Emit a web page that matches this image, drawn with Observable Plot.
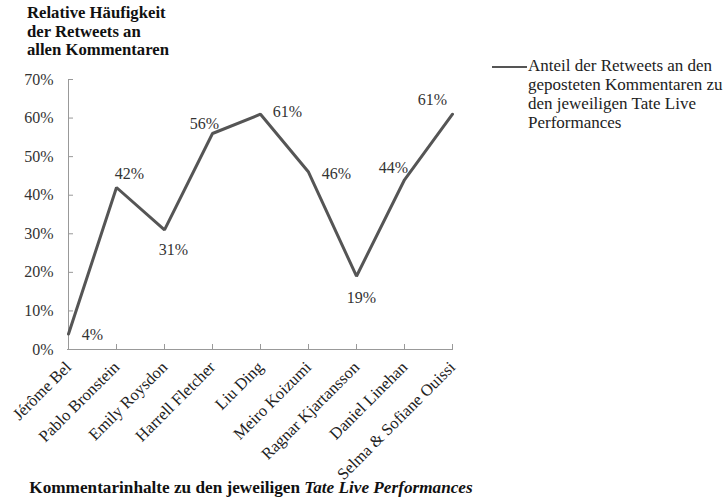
<!DOCTYPE html>
<html>
<head>
<meta charset="utf-8">
<script src="https://cdn.jsdelivr.net/npm/d3@7"></script>
<script src="https://cdn.jsdelivr.net/npm/@observablehq/plot@0.6"></script>
<style>
  html, body { margin: 0; padding: 0; background: #fff; }
  #wrap { position: relative; width: 728px; height: 504px; font-family: "Liberation Serif", "Times New Roman", serif; color: #333; }
  #wrap svg { position: absolute; left: 0; top: 0; }
  #wrap svg text { font-family: "Liberation Serif", "Times New Roman", serif !important; }
  .title { position: absolute; left: 27px; top: 4px; font-weight: bold; font-size: 16.7px; line-height: 18.5px; color: #111; }
  .legend { position: absolute; left: 492px; top: 56px; display: flex; align-items: flex-start; }
  .legend .swatch { width: 35px; height: 2.5px; background: #555; margin-top: 9.5px; flex: none; }
  .legend .label { margin-left: 1px; font-size: 17px; line-height: 19px; color: #222; width: 205px; }
  .xtitle { position: absolute; left: 0; width: 502px; top: 478px; text-align: center; font-weight: bold; font-size: 17.2px; line-height: 19px; color: #111; white-space: nowrap; }
</style>
</head>
<body>
<div id="wrap">
  <div class="title">Relative Häufigkeit<br>der Retweets an<br>allen Kommentaren</div>
  <div class="legend"><div class="swatch"></div><div class="label">Anteil der Retweets an den geposteten Kommentaren zu den jeweiligen Tate Live Performances</div></div>
  <div class="xtitle">Kommentarinhalte zu den jeweiligen <i>Tate Live Performances</i></div>
</div>
<script>
const categories = ["Jérôme Bel", "Pablo Bronstein", "Emily Roysdon", "Harrell Fletcher", "Liu Ding", "Meiro Koizumi", "Ragnar Kjartansson", "Daniel Linehan", "Selma & Sofiane Ouissi"];
const values = [4, 42, 31, 56, 61, 46, 19, 44, 61];
const yTicks = [0, 10, 20, 30, 40, 50, 60, 70];

// label offsets (dx, dy) for each value label
const labelOffsets = [[24, 1], [13, -14], [9, 20], [-8, -10], [27, -2], [28, 2], [5, 22], [-11, -12], [-20, -14]];

const data = categories.map((c, i) => ({ name: c, value: values[i] }));

const font = "'Liberation Serif', 'Times New Roman', serif";

const labelMarks = labelOffsets.map((o, i) =>
  Plot.text([data[i]], {
    x: "name", y: "value", text: d => d.value + "%",
    dx: o[0], dy: o[1], fontSize: 16, fill: "#333", fontFamily: font
  })
);

const chart = Plot.plot({
  width: 728,
  height: 504,
  marginLeft: 67,
  marginRight: 275,
  marginTop: 79,
  marginBottom: 155,
  style: `font-family: ${font}; font-size: 16px; color: #333; background: transparent;`,
  x: { type: "point", domain: categories, padding: 0 },
  y: { domain: [0, 70] },
  marks: [
    Plot.axisY({ ticks: yTicks, tickFormat: d => d + "%", tickSize: 0, tickPadding: 14, label: null, fontSize: 16, fill: "#333" }),
    Plot.axisX({ tickRotate: -45, tickSize: 0, tickPadding: 15, label: null, fontSize: 16.5, fill: "#222" }),
    Plot.ruleX([categories[0]], { x: d => d, stroke: "#999", strokeWidth: 1 }),
    Plot.ruleY([0], { y: d => d, stroke: "#999", strokeWidth: 1 }),
    Plot.ruleY(yTicks, { y: d => d, x1: () => categories[0], x2: () => categories[0], insetRight: -5, stroke: "#999", strokeWidth: 1 }),
    Plot.ruleX(categories, { x: d => d, y1: () => 0, y2: () => 0, insetTop: -5, stroke: "#999", strokeWidth: 1 }),
    Plot.line(data, { x: "name", y: "value", stroke: "#555", strokeWidth: 3, strokeLinejoin: "miter" }),
    ...labelMarks
  ]
});

document.getElementById("wrap").prepend(chart);
</script>
</body>
</html>
